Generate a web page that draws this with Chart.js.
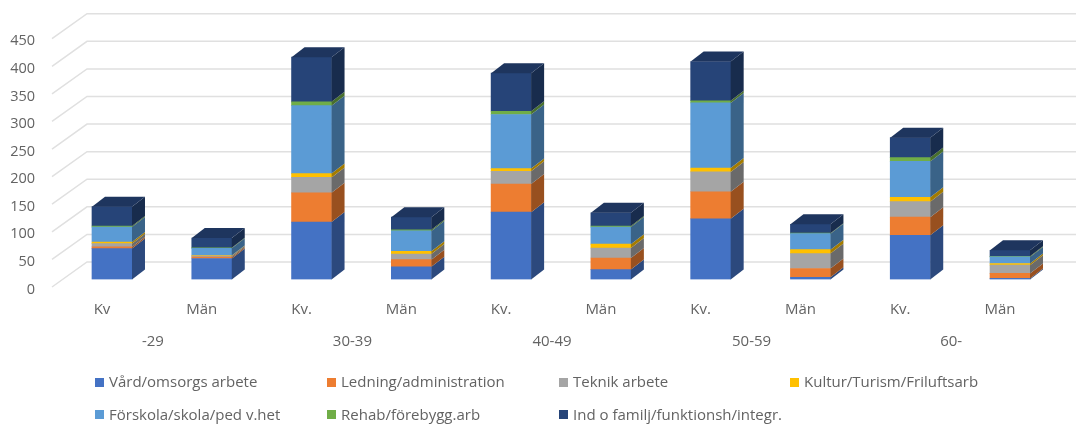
<!DOCTYPE html>
<html lang="sv">
<head>
<meta charset="utf-8">
<title>Anställda per yrkesområde och ålder</title>
<script src="https://cdn.jsdelivr.net/npm/chart.js@4"></script>
<style>
    body { margin: 0; background: #fff; }
    /* the reference is a soft screenshot */
    #wrap { position: relative; width: 1076px; height: 424px; overflow: hidden; filter: blur(0.45px); }
    #legend {
        position: absolute; left: 95px; top: 365px;
        display: grid; grid-template-columns: 232px 232px 231px 260px; grid-auto-rows: 32.5px;
        font: 15px "Open Sans", sans-serif; color: #636363;
    }
    .item { display: flex; align-items: center; white-space: nowrap; }
    .swatch { width: 9px; height: 9px; margin-right: 5px; margin-top: 2px; flex: none; }
</style>
</head>
<body>
<div id="wrap">
    <canvas id="chart" width="1076" height="424"></canvas>
    <div id="legend"></div>
</div>
<script>
const genders = ['Kv', 'Män', 'Kv.', 'Män', 'Kv.', 'Män', 'Kv.', 'Män', 'Kv.', 'Män'];
const ageGroups = ['-29', '30-39', '40-49', '50-59', '60-'];
const seriesNames = ['Vård/omsorgs arbete', 'Ledning/administration', 'Teknik arbete', 'Kultur/Turism/Friluftsarb',
    'Förskola/skola/ped v.het', 'Rehab/förebygg.arb', 'Ind o familj/funktionsh/integr.'];

const vard = [56, 38, 104, 23, 122, 18, 110, 4, 80, 2];
const ledning = [3, 2.5, 53, 13, 51, 21, 49, 16, 33, 9];
const teknik = [6, 2, 28, 10, 23, 18, 36, 27, 28, 15];
const kultur = [3, 1, 7, 5, 5, 7, 7, 7, 8, 3];
const forskola = [27, 13, 123, 37, 98, 31, 118, 29, 65, 12];
const rehab = [2, 1, 7, 2, 6, 2, 4, 1, 7, 1];
const ind = [35, 17.5, 81, 23, 69, 24, 71, 16, 36, 11];
const seriesValues = [vard, ledning, teknik, kultur, forskola, rehab, ind];

const colors = ['#4472c4', '#ed7d31', '#a5a5a5', '#ffc000', '#5b9bd5', '#70ad47', '#264478'];

const textColor = '#636363';
const gridColor = '#e0e0e0';
const depthX = 13, depthY = 10;     // bar depth
const wallX = 35, wallY = 25;       // floor depth, front edge to back wall

function shade(hex, factor) {
    const n = parseInt(hex.slice(1), 16);
    const r = Math.round((n >> 16 & 255) * factor);
    const g = Math.round((n >> 8 & 255) * factor);
    const b = Math.round((n & 255) * factor);
    return `rgb(${r},${g},${b})`;
}

function fillPoly(ctx, color, pts) {
    ctx.fillStyle = color;
    ctx.beginPath();
    pts.forEach((p, i) => i ? ctx.lineTo(p[0], p[1]) : ctx.moveTo(p[0], p[1]));
    ctx.closePath();
    ctx.fill();
}

// back wall lines and the diagonals going out to the tick labels
const wallPlugin = {
    id: 'wall',
    beforeDatasetsDraw(chart) {
        const { ctx, scales: { y }, width } = chart;
        const left = 52;
        ctx.save();
        ctx.strokeStyle = gridColor;
        ctx.lineWidth = 1.5;
        y.ticks.forEach(t => {
            const py = y.getPixelForValue(t.value);
            ctx.beginPath();
            ctx.moveTo(left, py + 7.5);
            ctx.lineTo(left + wallX, py + 7.5 - wallY);
            ctx.lineTo(width, py + 7.5 - wallY);
            ctx.stroke();
        });
        ctx.restore();
    }
};

// side and top faces, taken from the bar elements
const depthPlugin = {
    id: 'depth',
    afterDatasetsDraw(chart) {
        const { ctx } = chart;
        const last = chart.data.datasets.length - 1;
        ctx.save();
        chart.data.datasets.forEach((ds, d) => {
            chart.getDatasetMeta(d).data.forEach(bar => {
                const right = bar.x + bar.width / 2;
                const left = bar.x - bar.width / 2;
                fillPoly(ctx, shade(colors[d], 0.64), [
                    [right, bar.y], [right + depthX, bar.y - depthY],
                    [right + depthX, bar.base - depthY], [right, bar.base]
                ]);
                if (d === last) {
                    fillPoly(ctx, shade(colors[d], 0.78), [
                        [left, bar.y], [left + depthX, bar.y - depthY],
                        [right + depthX, bar.y - depthY], [right, bar.y]
                    ]);
                }
            });
        });
        ctx.restore();
    }
};

new Chart(document.getElementById('chart'), {
    type: 'bar',
    data: {
        labels: genders,
        datasets: seriesNames.map((name, i) => ({
            label: name,
            data: seriesValues[i],
            backgroundColor: colors[i],
            barThickness: 40
        }))
    },
    plugins: [wallPlugin, depthPlugin],
    options: {
        responsive: false,
        animation: false,
        layout: { padding: { top: 31.2, right: 16.1, left: 0, bottom: 0 } },
        plugins: { legend: { display: false }, tooltip: { enabled: false } },
        scales: {
            x: {
                stacked: true,
                grid: { display: false, drawTicks: false },
                border: { display: false },
                ticks: {
                    color: textColor, font: { family: 'Open Sans', size: 15 },
                    padding: 21, labelOffset: -10, maxRotation: 0, autoSkip: false
                },
                afterFit: scale => { scale.height = 45; }
            },
            x2: {
                type: 'category',
                position: 'bottom',
                labels: ageGroups,
                offset: true,
                grid: { display: false, drawTicks: false },
                border: { display: false },
                ticks: {
                    color: textColor, font: { family: 'Open Sans', size: 15 },
                    padding: 8, labelOffset: -9, maxRotation: 0, autoSkip: false
                },
                afterFit: scale => { scale.height = 99.5; }
            },
            y: {
                stacked: true,
                min: 0,
                max: 450,
                grid: { display: false, drawTicks: false },
                border: { display: false },
                ticks: {
                    stepSize: 50, color: textColor, font: { family: 'Open Sans', size: 14.5 },
                    padding: 27, labelOffset: 10
                },
                afterFit: scale => {
                    scale.width = 62.1;
                    scale.paddingTop = 0;
                    scale.paddingBottom = 0;
                }
            }
        }
    }
});

const legend = document.getElementById('legend');
seriesNames.forEach((name, i) => {
    const item = document.createElement('div');
    item.className = 'item';
    const swatch = document.createElement('span');
    swatch.className = 'swatch';
    swatch.style.background = colors[i];
    item.appendChild(swatch);
    item.appendChild(document.createTextNode(name));
    legend.appendChild(item);
});
</script>
</body>
</html>
